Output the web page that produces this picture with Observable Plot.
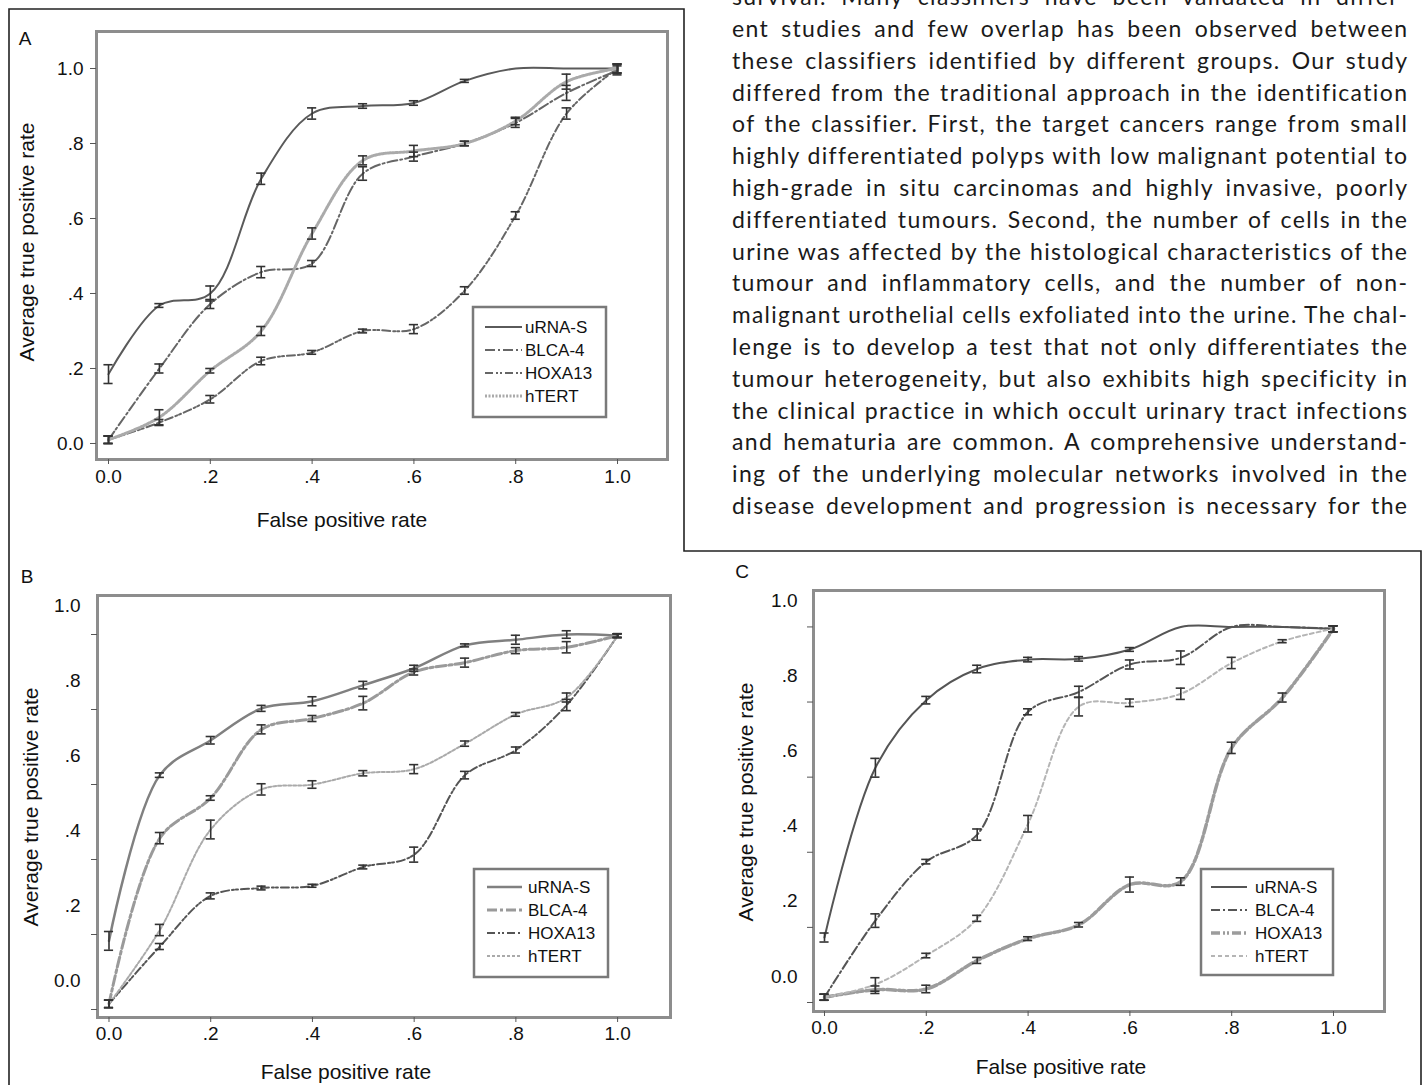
<!DOCTYPE html>
<html><head><meta charset="utf-8">
<script src="https://cdn.jsdelivr.net/npm/d3@7"></script>
<script src="https://cdn.jsdelivr.net/npm/@observablehq/plot@0.6"></script>
<style>
html,body{margin:0;padding:0;background:#fff;}
#page{position:relative;width:1426px;height:1085px;overflow:hidden;background:#fff;font-family:"Liberation Sans",Arial,sans-serif;color:#111;}
.plabel{position:absolute;font-size:19px;transform:translate(-50%,-50%);}
.xt{position:absolute;font-size:21px;transform:translate(-50%,-50%);white-space:nowrap;}
.yt{position:absolute;font-size:21px;transform:translate(-50%,-50%) rotate(-90deg);white-space:nowrap;}
.body-line{position:absolute;left:732px;font-family:Lato,"Open Sans",sans-serif;font-size:23px;line-height:32px;white-space:nowrap;color:#1a1a1a;transform-origin:left center;}
</style></head><body><div id="page"></div>
<script>
// ---------- data ----------
const fpr = [0, 0.1, 0.2, 0.3, 0.4, 0.5, 0.6, 0.7, 0.8, 0.9, 1.0];
const seriesNames = ["uRNA-S", "BLCA-4", "HOXA13", "hTERT"];
const xTicks = [0, 0.2, 0.4, 0.6, 0.8, 1.0];
const yTicks = [0, 0.2, 0.4, 0.6, 0.8, 1.0];

// Panel A
const A_uRNAS  = [0.185, 0.368, 0.400, 0.706, 0.880, 0.900, 0.908, 0.967, 1.000, 1.000, 1.000];
const A_BLCA4  = [0.010, 0.200, 0.372, 0.457, 0.480, 0.720, 0.765, 0.800, 0.855, 0.935, 0.995];
const A_HOXA13 = [0.010, 0.056, 0.118, 0.220, 0.243, 0.300, 0.305, 0.408, 0.608, 0.880, 1.000];
const A_hTERT  = [0.010, 0.070, 0.194, 0.300, 0.560, 0.755, 0.780, 0.800, 0.860, 0.965, 1.000];
const A_uRNAS_err  = [0.025, 0.005, 0.020, 0.015, 0.015, 0.006, 0.006, 0.004, 0, 0, 0.012];
const A_BLCA4_err  = [0.010, 0.012, 0.012, 0.015, 0.008, 0.018, 0.012, 0.006, 0.012, 0.020, 0.012];
const A_HOXA13_err = [0.010, 0.008, 0.010, 0.010, 0.005, 0.005, 0.012, 0.010, 0.010, 0.015, 0.012];
const A_hTERT_err  = [0.010, 0.020, 0.006, 0.012, 0.015, 0.012, 0.015, 0.006, 0.010, 0.020, 0.012];

// Panel B
const B_uRNAS  = [0.183, 0.625, 0.718, 0.803, 0.822, 0.865, 0.910, 0.971, 0.986, 1.000, 0.997];
const B_BLCA4  = [0.015, 0.457, 0.564, 0.747, 0.776, 0.817, 0.900, 0.925, 0.957, 0.966, 0.997];
const B_HOXA13 = [0.015, 0.168, 0.303, 0.324, 0.330, 0.380, 0.413, 0.625, 0.692, 0.812, 0.997];
const B_hTERT  = [0.015, 0.212, 0.480, 0.587, 0.600, 0.630, 0.641, 0.709, 0.787, 0.832, 0.997];
const B_uRNAS_err  = [0.025, 0.006, 0.010, 0.008, 0.012, 0.010, 0.008, 0.004, 0.012, 0.010, 0.005];
const B_BLCA4_err  = [0.010, 0.015, 0.006, 0.012, 0.008, 0.018, 0.008, 0.012, 0.008, 0.015, 0.005];
const B_HOXA13_err = [0.010, 0.008, 0.008, 0.005, 0.004, 0.005, 0.020, 0.010, 0.008, 0.015, 0.005];
const B_hTERT_err  = [0.010, 0.015, 0.025, 0.015, 0.010, 0.007, 0.012, 0.007, 0.005, 0.012, 0.005];

// Panel C
const C_uRNAS  = [0.173, 0.625, 0.805, 0.888, 0.913, 0.915, 0.940, 1.000, 1.000, 1.000, 0.995];
const C_BLCA4  = [0.014, 0.218, 0.375, 0.447, 0.774, 0.827, 0.900, 0.918, 1.000, 1.000, 0.995];
const C_HOXA13 = [0.014, 0.034, 0.036, 0.112, 0.170, 0.207, 0.314, 0.322, 0.678, 0.812, 0.995];
const C_hTERT  = [0.014, 0.048, 0.125, 0.224, 0.476, 0.788, 0.798, 0.822, 0.904, 0.962, 0.995];
const C_uRNAS_err  = [0.012, 0.025, 0.010, 0.010, 0.006, 0.006, 0.005, 0, 0, 0, 0.008];
const C_BLCA4_err  = [0.008, 0.018, 0.006, 0.015, 0.008, 0.015, 0.012, 0.018, 0, 0, 0.008];
const C_HOXA13_err = [0.008, 0.010, 0.010, 0.008, 0.005, 0.006, 0.020, 0.010, 0.015, 0.012, 0.008];
const C_hTERT_err  = [0.008, 0.018, 0.006, 0.008, 0.022, 0.025, 0.010, 0.015, 0.015, 0.004, 0.008];

const bodyLines = [
  "survival. Many classifiers have been validated in differ-",
  "ent studies and few overlap has been observed between",
  "these classifiers identified by different groups. Our study",
  "differed from the traditional approach in the identification",
  "of the classifier. First, the target cancers range from small",
  "highly differentiated polyps with low malignant potential to",
  "high-grade in situ carcinomas and highly invasive, poorly",
  "differentiated tumours. Second, the number of cells in the",
  "urine was affected by the histological characteristics of the",
  "tumour and inflammatory cells, and the number of non-",
  "malignant urothelial cells exfoliated into the urine. The chal-",
  "lenge is to develop a test that not only differentiates the",
  "tumour heterogeneity, but also exhibits high specificity in",
  "the clinical practice in which occult urinary tract infections",
  "and hematuria are common. A comprehensive understand-",
  "ing of the underlying molecular networks involved in the",
  "disease development and progression is necessary for the"
];

// ---------- helpers ----------
function rowsFor(vals, errs) {
  const out = [];
  seriesNames.forEach((s, k) => {
    fpr.forEach((x, i) => out.push({series: s, x, y: vals[k][i], e: errs[k][i]}));
  });
  return out;
}
const fmt = d => d === 0 ? "0.0" : d === 1 ? "1.0" : d3.format(".1f")(d).replace(/^0/, "");

const panels = [
  {
    name: "A", left: 0, top: 0, width: 684, height: 551,
    margin: {top: 31, right: 17, bottom: 92, left: 96},
    xDomain: [-0.0236, 1.0982], yDomain: [-0.0427, 1.0987],
    labelDy: 0, yPad: 13, xPad: 5,
    data: rowsFor([A_uRNAS, A_BLCA4, A_HOXA13, A_hTERT], [A_uRNAS_err, A_BLCA4_err, A_HOXA13_err, A_hTERT_err]),
    styles: {
      "uRNA-S": {stroke: "#5a5a5a", width: 2},
      "BLCA-4": {stroke: "#666", width: 2, dash: "10,3,2,3"},
      "HOXA13": {stroke: "#666", width: 2, dash: "8,3,2,2,2,3"},
      "hTERT": {stroke: "#aaa", width: 3, dash: "2,1.5"}
    },
    letter: [25, 38.5], ytitle: [27, 242], xtitle: [342, 520],
    legend: {x: 473, y: 307, w: 133, h: 110, rows: [327, 350, 373, 396], s1: 485, s2: 522, tx: 525}
  },
  {
    name: "B", left: 0, top: 551, width: 684, height: 534,
    margin: {top: 44, right: 14, bottom: 68, left: 97},
    xDomain: [-0.0226, 1.104], yDomain: [-0.0213, 1.104],
    labelDy: -29, yPad: 17, xPad: 4,
    data: rowsFor([B_uRNAS, B_BLCA4, B_HOXA13, B_hTERT], [B_uRNAS_err, B_BLCA4_err, B_HOXA13_err, B_hTERT_err]),
    styles: {
      "uRNA-S": {stroke: "#808080", width: 2.5},
      "BLCA-4": {stroke: "#9a9a9a", width: 3, dash: "10,3,3,3"},
      "HOXA13": {stroke: "#555", width: 2, dash: "8,3,2,2,2,3"},
      "hTERT": {stroke: "#aaa", width: 2, dash: "3,2"}
    },
    letter: [27, 577], ytitle: [31, 807], xtitle: [346, 1072],
    legend: {x: 474, y: 869, w: 134, h: 108, rows: [887, 910, 933, 956], s1: 487, s2: 522, tx: 528}
  },
  {
    name: "C", left: 684, top: 551, width: 742, height: 534,
    margin: {top: 39, right: 42, bottom: 74, left: 129},
    xDomain: [-0.0216, 1.1002], yDomain: [-0.024, 1.097],
    labelDy: -26, yPad: 16, xPad: 4,
    data: rowsFor([C_uRNAS, C_BLCA4, C_HOXA13, C_hTERT], [C_uRNAS_err, C_BLCA4_err, C_HOXA13_err, C_hTERT_err]),
    styles: {
      "uRNA-S": {stroke: "#555", width: 2},
      "BLCA-4": {stroke: "#555", width: 2, dash: "9,3,2,3"},
      "HOXA13": {stroke: "#9c9c9c", width: 3.5, dash: "9,3,2,2,2,3"},
      "hTERT": {stroke: "#b5b5b5", width: 2, dash: "4,3"}
    },
    letter: [742, 572], ytitle: [746, 802], xtitle: [1061, 1067],
    legend: {x: 1201, y: 869, w: 132, h: 106, rows: [887, 910, 933, 956], s1: 1211, s2: 1247, tx: 1255}
  }
];

const page = document.getElementById("page");
const cap = 0.009;

panels.forEach(p => {
  const marks = [Plot.frame({stroke: "#8d8d8d", strokeWidth: 3})];
  seriesNames.forEach(s => {
    const st = p.styles[s];
    const opts = {x: "x", y: "y", curve: "catmull-rom", stroke: st.stroke, strokeWidth: st.width};
    if (st.dash) opts.strokeDasharray = st.dash;
    marks.push(Plot.line(p.data.filter(r => r.series === s), opts));
  });
  const eb = p.data.filter(r => r.e > 0);
  marks.push(Plot.ruleX(eb, {x: "x", y1: d => d.y - d.e, y2: d => d.y + d.e, stroke: "#333", strokeWidth: 1.6}));
  marks.push(Plot.ruleY(eb, {y: d => d.y + d.e, x1: d => d.x - cap, x2: d => d.x + cap, stroke: "#333", strokeWidth: 1.6}));
  marks.push(Plot.ruleY(eb, {y: d => d.y - d.e, x1: d => d.x - cap, x2: d => d.x + cap, stroke: "#333", strokeWidth: 1.6}));
  marks.push(Plot.axisX(xTicks, {anchor: "bottom", tickSize: 5, tickPadding: p.xPad, tickFormat: fmt, stroke: "#555", label: null}));
  marks.push(Plot.axisY(yTicks, {anchor: "left", tickSize: 6, tickFormat: () => "", stroke: "#555", label: null}));
  marks.push(Plot.axisY(yTicks, {anchor: "left", tickSize: 0, tickPadding: p.yPad, tickFormat: fmt, dy: p.labelDy, label: null}));

  const svg = Plot.plot({
    width: p.width, height: p.height,
    marginTop: p.margin.top, marginRight: p.margin.right, marginBottom: p.margin.bottom, marginLeft: p.margin.left,
    x: {domain: p.xDomain, axis: null},
    y: {domain: p.yDomain, axis: null},
    style: {fontFamily: "Liberation Sans, Arial, sans-serif", fontSize: "19px", color: "#111", background: "transparent", overflow: "visible"},
    marks
  });
  svg.style.position = "absolute";
  svg.style.left = p.left + "px";
  svg.style.top = p.top + "px";
  page.appendChild(svg);

  const L = document.createElement("div");
  L.className = "plabel"; L.textContent = p.name;
  L.style.left = p.letter[0] + "px"; L.style.top = p.letter[1] + "px";
  page.appendChild(L);
  const yt = document.createElement("div");
  yt.className = "yt"; yt.textContent = "Average true positive rate";
  yt.style.left = p.ytitle[0] + "px"; yt.style.top = p.ytitle[1] + "px";
  page.appendChild(yt);
  const xt = document.createElement("div");
  xt.className = "xt"; xt.textContent = "False positive rate";
  xt.style.left = p.xtitle[0] + "px"; xt.style.top = p.xtitle[1] + "px";
  page.appendChild(xt);
});

// overlay: legends and figure border
const overlay = d3.select(page).append("svg")
  .attr("width", 1426).attr("height", 1085)
  .style("position", "absolute").style("left", 0).style("top", 0);
overlay.append("path").attr("d", "M9,1095V9H684V551H1421V1095")
  .attr("fill", "none").attr("stroke", "#222").attr("stroke-width", 1.6);
panels.forEach(p => {
  const lg = p.legend;
  const g = overlay.append("g");
  g.append("rect").attr("x", lg.x).attr("y", lg.y).attr("width", lg.w).attr("height", lg.h)
    .attr("fill", "#fff").attr("stroke", "#7a7a7a").attr("stroke-width", 2.5);
  seriesNames.forEach((s, i) => {
    const st = p.styles[s];
    g.append("line").attr("x1", lg.s1).attr("x2", lg.s2).attr("y1", lg.rows[i]).attr("y2", lg.rows[i])
      .attr("stroke", st.stroke).attr("stroke-width", st.width).attr("stroke-dasharray", st.dash || null);
    g.append("text").attr("x", lg.tx).attr("y", lg.rows[i]).attr("dominant-baseline", "central")
      .attr("font-family", "Liberation Sans, Arial, sans-serif").attr("font-size", 17).attr("fill", "#111").text(s);
  });
});

// body text, justified line by line
const target = 675;
const divs = bodyLines.map((t, i) => {
  const d = document.createElement("div");
  d.className = "body-line";
  d.textContent = t;
  d.style.top = (508 - 31.8 * (bodyLines.length - 1 - i) - 19) + "px";
  page.appendChild(d);
  return d;
});
const need = divs.map((d, i) => (target - d.getBoundingClientRect().width) / bodyLines[i].length).sort((a, b) => a - b);
const ls = Math.max(0, need[Math.floor(need.length / 2)] * 0.8);
divs.forEach((d, i) => {
  const t = bodyLines[i];
  d.style.letterSpacing = ls + "px";
  const w = d.getBoundingClientRect().width - ls;
  const spaces = (t.match(/ /g) || []).length;
  if (w < target && spaces > 0) {
    d.style.wordSpacing = ((target - w) / spaces) + "px";
  } else if (w > target) {
    d.style.transform = "scaleX(" + (target / w) + ")";
  }
});
</script></body></html>
